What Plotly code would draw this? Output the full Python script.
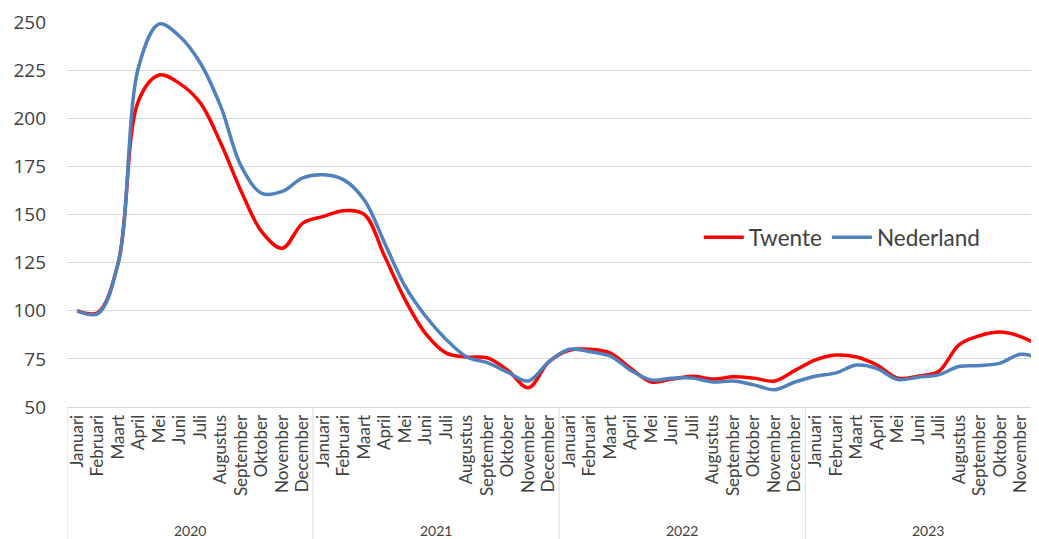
import plotly.graph_objects as go

years = ["2020", "2021", "2022", "2023"]
months = ["Januari", "Februari", "Maart", "April", "Mei", "Juni", "Juli",
          "Augustus", "September", "Oktober", "November", "December"]

twente = [100, 99, 125, 209.5, 222.5, 218, 208, 187, 162, 141, 132.5, 145.5,
          149, 152, 150, 128, 105.5, 88, 78, 76, 75.5, 69, 60, 73.5,
          79.5, 80, 78, 70, 63, 64.5, 66, 64.5, 65.7, 65, 63.5, 69,
          74.5, 77, 76, 71.8, 65, 66, 68.4, 82.3, 87, 88.9, 86.6, 81.5]
nederland = [100, 98.5, 125, 227, 249, 242.5, 228.7, 206, 175, 161, 162, 169,
             170.6, 168, 157.5, 135, 112.5, 97, 85, 76, 73, 68, 63.5, 73.5,
             80, 78.7, 76.4, 69, 64, 65, 65, 63, 63.5, 61.5, 59, 63,
             66, 67.7, 71.8, 70, 64.3, 65.5, 66.7, 71, 71.5, 72.8, 77.4, 75]

labels = [m for y in years for m in months]
xs = list(range(len(labels)))

FONT = "Lato, 'Open Sans', sans-serif"
NUMFONT = "'Open Sans', Lato, sans-serif"
TXT = "#404040"

fig = go.Figure()
fig.add_trace(go.Scatter(x=xs, y=twente, name="Twente", mode="lines",
                         line=dict(color="#ff0000", width=3.5, shape="spline", smoothing=1)))
fig.add_trace(go.Scatter(x=xs, y=nederland, name="Nederland", mode="lines",
                         line=dict(color="#4f81bd", width=3.5, shape="spline", smoothing=1)))

n = len(months)
for k, yr in enumerate(years):
    fig.add_annotation(x=k * n + (n - 1) / 2, y=-0.322, xref="x", yref="paper",
                       text=yr, showarrow=False, yanchor="middle",
                       font=dict(family=FONT, size=14, color=TXT))
for k in range(len(years) + 1):
    fig.add_shape(type="line", xref="x", yref="paper",
                  x0=k * n - 0.5, x1=k * n - 0.5, y0=0, y1=-0.36,
                  line=dict(color="#d9d9d9", width=1))

fig.update_layout(
    width=1031, height=531,
    margin=dict(l=59, r=0, t=14, b=132, autoexpand=False),
    paper_bgcolor="white", plot_bgcolor="white",
    font=dict(family=FONT, color=TXT),
    showlegend=True,
    legend=dict(orientation="h", x=0.650, y=0.44, xanchor="left", yanchor="middle",
                font=dict(family=FONT, size=22.5, color=TXT), bgcolor="rgba(0,0,0,0)",
                itemwidth=40),
    xaxis=dict(tickmode="array", tickvals=xs, ticktext=labels, tickangle=-90,
               range=[-0.5, 46.9], showgrid=False, showline=True, linecolor="#d9d9d9",
               ticks="", tickfont=dict(family=FONT, size=17, color=TXT), zeroline=False,
               automargin=False),
    yaxis=dict(range=[50, 250], dtick=25, tick0=50, showgrid=True, gridcolor="#d9d9d9",
               zeroline=False, showline=False, ticks="", automargin=False,
               ticklabelstandoff=20,
               tickfont=dict(family=NUMFONT, size=19, color=TXT)),
)

fig.write_html("out.html")
